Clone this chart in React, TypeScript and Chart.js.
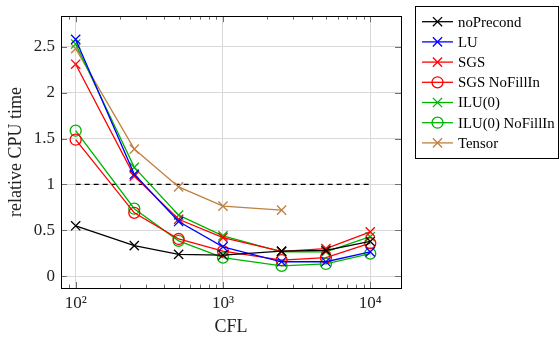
import { useEffect, useRef } from 'react';
import { Chart, registerables } from 'chart.js';
Chart.register(...registerables);

const cfl = [100, 250, 500, 1000, 2500, 5000, 10000];
const noPrecond = [0.549, 0.333, 0.238, 0.23, 0.273, 0.28, 0.378];
const lu = [2.58, 1.11, 0.595, 0.32, 0.157, 0.157, 0.265];
const sgs = [2.31, 1.09, 0.62, 0.42, 0.27, 0.3, 0.483];
const sgsNoFillIn = [1.487, 0.69, 0.405, 0.273, 0.175, 0.203, 0.36];
const ilu0 = [2.53, 1.186, 0.665, 0.44, 0.265, 0.265, 0.43];
const ilu0NoFillIn = [1.585, 0.735, 0.385, 0.203, 0.112, 0.133, 0.245];
const tensorCfl = [100, 250, 500, 1000, 2500];
const tensor = [2.48, 1.385, 0.973, 0.763, 0.72];
const refCfl = [100, 10000];
const refValue = [1, 1];

const seriesNames = ['noPrecond', 'LU', 'SGS', 'SGS NoFillIn', 'ILU(0)', 'ILU(0) NoFillIn', 'Tensor'];
const seriesColors = ['#000000', '#0000ff', '#ff0000', '#ff0000', '#00b400', '#00b400', '#bf8040'];
const seriesMarkers = ['crossRot', 'crossRot', 'crossRot', 'circle', 'crossRot', 'circle', 'crossRot'];

const xTicks = [100, 1000, 10000];
const xTickLabels = ['10²', '10³', '10⁴'];
const xMinorTicks = [80, 90, 200, 300, 400, 500, 600, 700, 800, 900, 2000, 3000, 4000, 5000, 6000, 7000, 8000, 9000];
const yTicks = [0, 0.5, 1, 1.5, 2, 2.5];
const yTickLabels = ['0', '0.5', '1', '1.5', '2', '2.5'];

const FONT = '"Liberation Serif", "DejaVu Serif", serif';

function pts(xs: number[], ys: number[]) {
  return xs.map((x, i) => ({ x, y: ys[i] }));
}

export default function App() {
  const ref = useRef<HTMLCanvasElement | null>(null);
  useEffect(() => {
    if (!ref.current) return;
    const allY = [noPrecond, lu, sgs, sgsNoFillIn, ilu0, ilu0NoFillIn, tensor];
    const allX = [cfl, cfl, cfl, cfl, cfl, cfl, tensorCfl];
    const datasets: any[] = allY.map((ys, i) => ({
      label: seriesNames[i],
      data: pts(allX[i], ys),
      borderColor: seriesColors[i],
      backgroundColor: 'rgba(0,0,0,0)',
      pointBackgroundColor: 'rgba(0,0,0,0)',
      pointBorderColor: seriesColors[i],
      pointStyle: seriesMarkers[i],
      pointRadius: seriesMarkers[i] === 'circle' ? 5.5 : 6.5,
      pointBorderWidth: 1.3,
      borderWidth: 1.3,
      tension: 0,
    }));
    datasets.push({
      label: 'ref',
      data: pts(refCfl, refValue),
      borderColor: '#000000',
      borderDash: [5, 4],
      borderWidth: 1.2,
      pointRadius: 0,
    });

    const frame = {
      id: 'frame',
      beforeDatasetsDraw(chart: any) {
        const { ctx, chartArea: a, scales } = chart;
        const xs = scales.x, ys = scales.y;
        ctx.save();
        ctx.strokeStyle = '#707070';
        ctx.lineWidth = 1;
        ctx.beginPath();
        xTicks.forEach((v) => {
          const p = Math.round(xs.getPixelForValue(v)) + 0.5;
          ctx.moveTo(p, a.bottom); ctx.lineTo(p, a.bottom - 6);
          ctx.moveTo(p, a.top); ctx.lineTo(p, a.top + 6);
        });
        xMinorTicks.forEach((v) => {
          const p = Math.round(xs.getPixelForValue(v)) + 0.5;
          ctx.moveTo(p, a.bottom); ctx.lineTo(p, a.bottom - 3.5);
          ctx.moveTo(p, a.top); ctx.lineTo(p, a.top + 3.5);
        });
        yTicks.forEach((v) => {
          const p = Math.round(ys.getPixelForValue(v)) + 0.5;
          ctx.moveTo(a.left, p); ctx.lineTo(a.left + 6, p);
          ctx.moveTo(a.right, p); ctx.lineTo(a.right - 6, p);
        });
        ctx.stroke();
        ctx.restore();
      },
      afterDraw(chart: any) {
        const { ctx, chartArea: a } = chart;
        ctx.save();
        ctx.strokeStyle = '#000';
        ctx.lineWidth = 1;
        ctx.strokeRect(Math.round(a.left) + 0.5, Math.round(a.top) + 0.5, Math.round(a.right - a.left), Math.round(a.bottom - a.top));
        // legend
        const bx = 415.5, by = 6.5, bw = 143, bh = 152;
        ctx.fillStyle = '#fff';
        ctx.fillRect(bx, by, bw, bh);
        ctx.strokeRect(bx, by, bw, bh);
        ctx.font = '14.8px ' + FONT;
        ctx.textBaseline = 'middle';
        ctx.textAlign = 'left';
        seriesNames.forEach((name, i) => {
          const y = 21.7 + i * 20.2;
          const c = seriesColors[i];
          ctx.strokeStyle = c;
          ctx.lineWidth = 1.3;
          ctx.beginPath();
          ctx.moveTo(422, y); ctx.lineTo(453, y);
          ctx.stroke();
          const cx = 437.5;
          ctx.beginPath();
          if (seriesMarkers[i] === 'circle') {
            ctx.arc(cx, y, 5.5, 0, Math.PI * 2);
          } else {
            const d = 6.5 * Math.SQRT1_2;
            ctx.moveTo(cx - d, y - d); ctx.lineTo(cx + d, y + d);
            ctx.moveTo(cx + d, y - d); ctx.lineTo(cx - d, y + d);
          }
          ctx.stroke();
          ctx.fillStyle = '#000';
          ctx.fillText(name, 458, y + 1);
        });
        ctx.restore();
      },
    };

    const chart = new Chart(ref.current, {
      type: 'line',
      data: { datasets },
      options: {
        animation: false,
        responsive: false,
        devicePixelRatio: 1,
        layout: { padding: { left: 0, top: 6, right: 159, bottom: 0 } },
        plugins: { legend: { display: false }, tooltip: { enabled: false } },
        scales: {
          x: {
            type: 'logarithmic',
            min: 79.5,
            max: 16170,
            afterBuildTicks: (s: any) => { s.ticks = xTicks.map((v) => ({ value: v })); },
            afterFit: (s: any) => { s.height = 49; },
            grid: { color: '#d8d8d8', lineWidth: 1, drawTicks: false },
            border: { display: false },
            ticks: {
              autoSkip: false,
              maxRotation: 0,
              padding: 5,
              color: '#222',
              font: { family: FONT, size: 17 },
              callback: (v: any) => { const i = xTicks.indexOf(Number(v)); return i >= 0 ? xTickLabels[i] : ''; },
            },
            title: { display: true, text: 'CFL', color: '#222', font: { family: FONT, size: 18, lineHeight: 1.1 }, padding: { top: 0, bottom: 0 } },
          },
          y: {
            type: 'linear',
            min: -0.129,
            max: 2.833,
            afterBuildTicks: (s: any) => { s.ticks = yTicks.map((v) => ({ value: v })); },
            afterFit: (s: any) => { s.width = 61; },
            grid: { color: '#d8d8d8', lineWidth: 1, drawTicks: false },
            border: { display: false },
            ticks: {
              autoSkip: false,
              padding: 6,
              color: '#222',
              font: { family: FONT, size: 17 },
              callback: (v: any) => { const i = yTicks.indexOf(Number(v)); return i >= 0 ? yTickLabels[i] : ''; },
            },
            title: { display: true, text: 'relative CPU time', color: '#222', font: { family: FONT, size: 18, lineHeight: 1.1 }, padding: { top: 6, bottom: 0 } },
          },
        },
      },
      plugins: [frame],
    } as any);
    return () => chart.destroy();
  }, []);
  return (
    <div style={{ position: 'absolute', left: 0, top: 0, width: 560, height: 337 }}>
      <canvas ref={ref} width={560} height={337} />
    </div>
  );
}
